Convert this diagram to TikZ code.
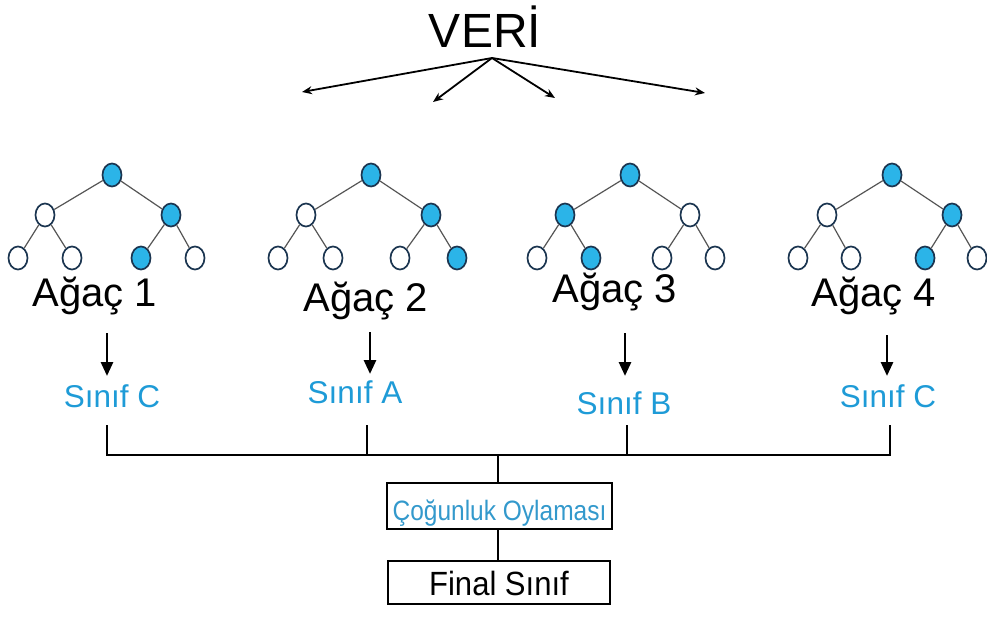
\documentclass[tikz,border=0pt]{standalone}
\usepackage{fontspec}
\setmainfont{Liberation Sans}
\usetikzlibrary{shapes.geometric,arrows.meta}
\definecolor{leafblue}{HTML}{2BB4E8}
\definecolor{nodeline}{HTML}{1B3550}
\definecolor{sinifblue}{HTML}{1E9BD7}
\definecolor{cogblue}{HTML}{3399CC}
\definecolor{edgegray}{HTML}{555555}
\tikzset{
  tn/.style={ellipse, draw=nodeline, line width=1.7pt, minimum width=19pt, minimum height=23pt, inner sep=0pt},
  on/.style={tn, fill=leafblue},
  off/.style={tn, fill=white},
  tedge/.style={draw=edgegray, line width=1.2pt},
  agac/.style={anchor=base, inner sep=0pt, font=\fontsize{40}{40}\selectfont},
  sinif/.style={anchor=base, inner sep=0pt, text=sinifblue, font=\fontsize{31.5}{31.5}\selectfont},
  dataarrow/.style={line width=1.8pt, -{Stealth[length=10pt,width=8pt]}},
  downarrow/.style={line width=2.8pt, -{Triangle[length=14pt,width=12pt]}},
  conn/.style={line width=2.2pt},
  boxnode/.style={draw, line width=2.2pt, inner sep=0pt}
}
\begin{document}
\begin{tikzpicture}[x=1pt,y=-1pt]
\useasboundingbox[fill=white] (0,0) rectangle (987,617);

% title
\node[anchor=base, inner sep=0pt, font=\fontsize{48}{48}\selectfont] (veri) at (485,48) {VERİ};
\coordinate (vs) at (492,58);
\coordinate (v1) at (302,92);
\coordinate (v2) at (433,102);
\coordinate (v3) at (555,98);
\coordinate (v4) at (705,93);
\foreach \t in {v1,v2,v3,v4} \draw[dataarrow] (vs) -- (\t);

% tree 1
\node[on]  (t1r)  at (112,175) {};
\node[off] (t1a)  at (45,215) {};
\node[on]  (t1b)  at (171,215) {};
\node[off] (t1c)  at (18,258) {};
\node[off] (t1d)  at (72,258) {};
\node[on]  (t1e)  at (141,258) {};
\node[off] (t1f)  at (195,258) {};
% tree 2
\node[on]  (t2r)  at (371,175) {};
\node[off] (t2a)  at (306,215) {};
\node[on]  (t2b)  at (431,215) {};
\node[off] (t2c)  at (278,258) {};
\node[off] (t2d)  at (333,258) {};
\node[off] (t2e)  at (400,258) {};
\node[on]  (t2f)  at (457,258) {};
% tree 3
\node[on]  (t3r)  at (630,175) {};
\node[on]  (t3a)  at (565,215) {};
\node[off] (t3b)  at (690,215) {};
\node[off] (t3c)  at (537,258) {};
\node[on]  (t3d)  at (591,258) {};
\node[off] (t3e)  at (662,258) {};
\node[off] (t3f)  at (715,258) {};
% tree 4
\node[on]  (t4r)  at (892,175) {};
\node[off] (t4a)  at (827,215) {};
\node[on]  (t4b)  at (952,215) {};
\node[off] (t4c)  at (798,258) {};
\node[off] (t4d)  at (851,258) {};
\node[on]  (t4e)  at (925,258) {};
\node[off] (t4f)  at (977,258) {};

\foreach \i in {1,2,3,4}{
  \draw[tedge] (t\i r) -- (t\i a);
  \draw[tedge] (t\i r) -- (t\i b);
  \draw[tedge] (t\i a) -- (t\i c);
  \draw[tedge] (t\i a) -- (t\i d);
  \draw[tedge] (t\i b) -- (t\i e);
  \draw[tedge] (t\i b) -- (t\i f);
}

% tree labels
\node[agac] (a1) at (95,306) {Ağaç 1};
\node[agac] (a2) at (366,312) {Ağaç 2};
\node[agac] (a3) at (615,303) {Ağaç 3};
\node[agac] (a4) at (874,307) {Ağaç 4};

% class labels
\node[sinif] (s1) at (112,407) {Sınıf C};
\node[sinif] (s2) at (355,403) {Sınıf A};
\node[sinif] (s3) at (624,414) {Sınıf B};
\node[sinif] (s4) at (888,407) {Sınıf C};

% down arrows
\coordinate (d1s) at (107,333); \coordinate (d1e) at (107,376);
\coordinate (d2s) at (370,332); \coordinate (d2e) at (370,374);
\coordinate (d3s) at (625,333); \coordinate (d3e) at (625,376);
\coordinate (d4s) at (887,335); \coordinate (d4e) at (887,376);
\foreach \i in {1,2,3,4} \draw[downarrow] (d\i s) -- (d\i e);

% voting boxes
\node[boxnode, minimum width=225pt, minimum height=46pt, text height=29pt, text depth=1pt,
      text=cogblue, font=\fontsize{28}{28}\selectfont] (vote) at (499.5,506) {\scalebox{0.875}[1]{Çoğunluk Oylaması}};
\node[boxnode, minimum width=222pt, minimum height=43pt, text height=27pt, text depth=2pt,
      font=\fontsize{32}{32}\selectfont] (final) at (499,582.5) {\scalebox{0.97}[1.05]{Final Sınıf}};

% collector lines
\coordinate (c1) at (107,425); \coordinate (c2) at (367,425);
\coordinate (c3) at (627,425); \coordinate (c4) at (890,425);
\coordinate (h1) at (107,455); \coordinate (h2) at (367,455);
\coordinate (h3) at (627,455); \coordinate (h4) at (890,455);
\coordinate (hm) at (498,455);
\draw[conn] (c1) -- (h1) -- (h4) -- (c4);
\draw[conn] (c2) -- (h2);
\draw[conn] (c3) -- (h3);
\draw[conn] (hm) -- (vote.north -| hm);
\draw[conn] (vote.south -| hm) -- (final.north -| hm);
\end{tikzpicture}
\end{document}
